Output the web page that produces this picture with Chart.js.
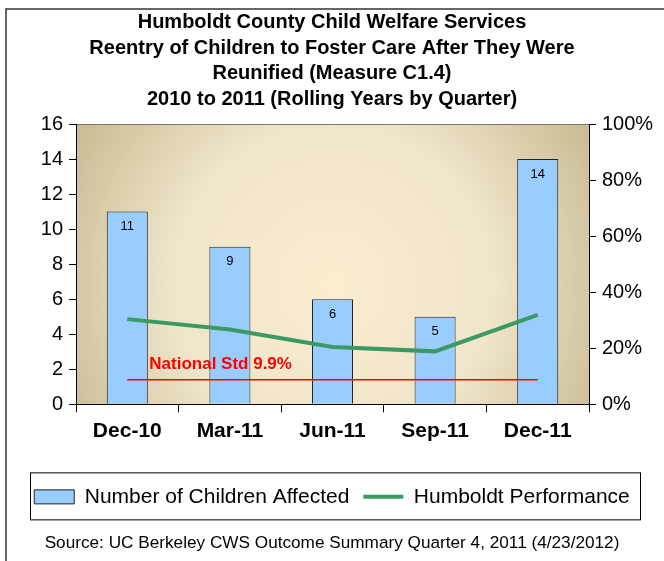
<!DOCTYPE html>
<html>
<head>
<meta charset="utf-8">
<script src="https://cdn.jsdelivr.net/npm/chart.js@4"></script>
<style>
html, body { margin: 0; padding: 0; background: #fff; }
</style>
</head>
<body>
<canvas id="reentryChart" width="664" height="561"></canvas>
<script>
// Chart data
const quarters = ["Dec-10", "Mar-11", "Jun-11", "Sep-11", "Dec-11"];
const childrenAffected = [11, 9, 6, 5, 14];
const humboldtPerformance = [30.4, 26.7, 20.5, 18.9, 31.9];
const nationalStd = [8.8, 8.8, 8.8, 8.8, 8.8];
const titleLines = [
    "Humboldt County Child Welfare Services",
    "Reentry of Children to Foster Care After They Were",
    "Reunified (Measure C1.4)",
    "2010 to 2011 (Rolling Years by Quarter)"
];
const sourceText = "Source: UC Berkeley CWS Outcome Summary Quarter 4, 2011 (4/23/2012)";
const stdLabel = "National Std 9.9%";

const FONT = "'Liberation Sans', Arial, sans-serif";

// background of plot area + outer frame
const plotBackground = {
    id: "plotBackground",
    beforeDraw(chart) {
        const ctx = chart.ctx;
        const a = chart.chartArea;
        const cx = (a.left + a.right) / 2;
        const cy = (a.top + a.bottom) / 2 + 20;
        const r = Math.hypot(a.right - a.left, a.bottom - a.top) / 2;
        const g = ctx.createRadialGradient(cx, cy, 0, cx, cy, r);
        g.addColorStop(0, "#fcedd0");
        g.addColorStop(0.55, "#efe5ca");
        g.addColorStop(1, "#cbbd95");
        ctx.save();
        ctx.fillStyle = g;
        ctx.fillRect(a.left, a.top, a.right - a.left, a.bottom - a.top);
        ctx.strokeStyle = "#777";
        ctx.lineWidth = 1;
        ctx.beginPath();
        ctx.moveTo(a.left, a.top + 0.5);
        ctx.lineTo(a.right, a.top + 0.5);
        ctx.stroke();

        // outer frame
        ctx.strokeStyle = "#333";
        ctx.lineWidth = 1.5;
        ctx.beginPath();
        ctx.moveTo(6, chart.height);
        ctx.lineTo(6, 9);
        ctx.lineTo(chart.width, 9);
        ctx.stroke();
        ctx.restore();
    }
};

// value labels in bars + national standard label
const barLabels = {
    id: "barLabels",
    afterDatasetsDraw(chart) {
        const ctx = chart.ctx;
        const meta = chart.getDatasetMeta(0);
        ctx.save();
        ctx.fillStyle = "#000";
        ctx.font = "13px " + FONT;
        ctx.textAlign = "center";
        ctx.textBaseline = "middle";
        meta.data.forEach((bar, i) => {
            ctx.fillText(String(childrenAffected[i]), bar.x, bar.y + 15);
        });

        const x = chart.scales.x.getPixelForValue(0) + 22;
        const y = chart.scales.yPct.getPixelForValue(nationalStd[0]) - 15;
        ctx.fillStyle = "#ff0000";
        ctx.font = "bold 17px " + FONT;
        ctx.textAlign = "left";
        ctx.fillText(stdLabel, x, y);
        ctx.restore();
    }
};

// box around legend
const legendBox = {
    id: "legendBox",
    afterDraw(chart) {
        const lg = chart.legend;
        const mid = lg.top + lg.options.labels.padding + 10;
        const ctx = chart.ctx;
        ctx.save();
        ctx.strokeStyle = "#000";
        ctx.lineWidth = 1;
        ctx.strokeRect(30.5, mid - 23.5, 610, 47);
        ctx.restore();
    }
};

const ctx = document.getElementById("reentryChart").getContext("2d");

new Chart(ctx, {
    data: {
        labels: quarters,
        datasets: [
            {
                type: "bar",
                label: "Number of Children Affected",
                data: childrenAffected,
                yAxisID: "y",
                backgroundColor: "#99ccff",
                borderColor: "#222",
                borderWidth: 1,
                barPercentage: 0.4,
                categoryPercentage: 1,
                pointStyle: "rect",
                order: 3
            },
            {
                type: "line",
                label: "Humboldt Performance",
                data: humboldtPerformance,
                yAxisID: "yPct",
                borderColor: "#3a9a64",
                backgroundColor: "#3a9a64",
                borderWidth: 4,
                pointRadius: 0,
                tension: 0,
                pointStyle: "line",
                order: 1
            },
            {
                type: "line",
                label: "National Std",
                data: nationalStd,
                yAxisID: "yPct",
                borderColor: "#ff0000",
                borderWidth: 1.5,
                pointRadius: 0,
                order: 2
            }
        ]
    },
    options: {
        responsive: false,
        animation: false,
        layout: { padding: 0 },
        plugins: {
            tooltip: { enabled: false },
            title: {
                display: true,
                text: titleLines,
                color: "#000",
                font: { family: FONT, size: 20, weight: "bold", lineHeight: 1.275 },
                padding: { top: 10, bottom: 12 }
            },
            subtitle: {
                display: true,
                position: "bottom",
                text: sourceText,
                color: "#000",
                font: { family: FONT, size: 17.2, lineHeight: 1.2 },
                padding: { top: 16, bottom: 7 }
            },
            legend: {
                position: "bottom",
                labels: {
                    filter: (item) => item.datasetIndex !== 2,
                    sort: (a, b) => a.datasetIndex - b.datasetIndex,
                    usePointStyle: true,
                    pointStyleWidth: 40,
                    boxHeight: 14,
                    padding: 14,
                    color: "#000",
                    font: { family: FONT, size: 21 }
                }
            }
        },
        scales: {
            x: {
                offset: true,
                grid: { offset: true, drawOnChartArea: false, tickLength: 8, color: "#000" },
                border: { color: "#000" },
                ticks: { color: "#000", padding: 6, font: { family: FONT, size: 21, weight: "bold" } },
                afterFit: (s) => { s.height = 68; }
            },
            y: {
                position: "left",
                min: 0,
                max: 16,
                ticks: { stepSize: 2, color: "#000", padding: 6, font: { family: FONT, size: 20 } },
                grid: { drawOnChartArea: false, tickLength: 7, color: "#000" },
                border: { color: "#000" },
                afterFit: (s) => { s.width = 76; }
            },
            yPct: {
                position: "right",
                min: 0,
                max: 100,
                ticks: {
                    stepSize: 20,
                    color: "#000",
                    padding: 6,
                    font: { family: FONT, size: 20 },
                    callback: (v) => v + "%"
                },
                grid: { drawOnChartArea: false, tickLength: 7, color: "#000" },
                border: { color: "#000" },
                afterFit: (s) => { s.width = 75; }
            }
        }
    },
    plugins: [plotBackground, barLabels, legendBox]
});
</script>
</body>
</html>
